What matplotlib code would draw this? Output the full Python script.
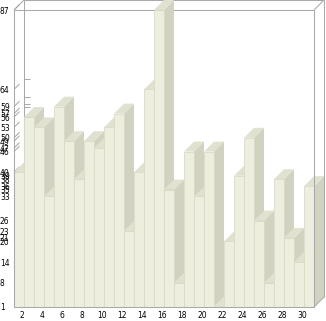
import matplotlib
matplotlib.use('Agg')
import matplotlib.pyplot as plt
from matplotlib.patches import Polygon
import numpy as np

# ---- data ----
categories = list(range(1, 31))
values = [40, 56, 53, 33, 59, 49, 38, 49, 47, 53, 57, 23, 40, 64, 87,
          35, 8, 46, 33, 46, 1, 20, 39, 50, 26, 8, 38, 21, 14, 36]
x_tick_cats = [c for c in categories if c % 2 == 0]
x_tick_labels = [str(c) for c in x_tick_cats]
y_tick_values = sorted(set(values))
y_min, y_max = 1, 87

# ---- style ----
FRONT = '#EEEEDF'
TOP = '#E1E1D0'
SIDE = '#D2D2C1'
EDGE = '#DADAC8'
FRAME = '#A9A9A9'

W, H, DPI = 326, 321, 100
fig = plt.figure(figsize=(W / DPI, H / DPI), dpi=DPI)
L, R, T, B = 14, 314, 10, 307
ax = fig.add_axes([L / W, 1 - B / H, (R - L) / W, (B - T) / H])
ax.set_xlim(0.5, len(categories) + 0.5)
ax.set_ylim(y_min, y_max)
for s in ax.spines.values():
    s.set_visible(False)
ax.set_facecolor('none')

# depth offset (10 px right, 10 px up) converted to data units
p0 = ax.transData.transform((0.5, y_min))
q0 = ax.transData.inverted().transform(p0 + np.array([10.0, 10.0]))
dx, dy = q0[0] - 0.5, q0[1] - y_min

x0, x1 = 0.5, len(categories) + 0.5
lw = 0.75

def line(xs, ys, z=1, color=FRAME):
    ax.plot(xs, ys, color=color, lw=lw, clip_on=False, zorder=z,
            solid_capstyle='butt')

# back wall + left wall frame (behind bars)
line([x0 + dx, x1 + dx], [y_max + dy, y_max + dy])
line([x0 + dx, x0 + dx], [y_min + dy, y_max + dy])
line([x1 + dx, x1 + dx], [y_min + dy, y_max + dy])
line([x0, x0 + dx], [y_max, y_max + dy])
line([x0, x1], [y_max, y_max])
line([x1, x1 + dx], [y_max, y_max + dy])

# tick marks on left wall and back wall
for v in y_tick_values:
    line([x0, x0 + 0.55 * dx], [v, v + 0.55 * dy])
    line([x0 + dx, x0 + dx + 0.6], [v + dy, v + dy])

# bars drawn left to right: side, top, front
for i, (c, v) in enumerate(zip(categories, values)):
    z = 3 + i * 3
    xl, xr = c - 0.5, c + 0.5
    side = Polygon([(xr, y_min), (xr, v), (xr + dx, v + dy), (xr + dx, y_min + dy)],
                   closed=True, facecolor=SIDE, edgecolor='none', clip_on=False, zorder=z)
    top = Polygon([(xl, v), (xr, v), (xr + dx, v + dy), (xl + dx, v + dy)],
                  closed=True, facecolor=TOP, edgecolor='none', clip_on=False, zorder=z + 1)
    ax.add_patch(side)
    ax.add_patch(top)
    ax.bar(c, v - y_min, bottom=y_min, width=1.0, color=FRONT, edgecolor=EDGE,
           linewidth=0.6, zorder=z + 2, clip_on=False)

# front frame lines on top
ztop = 200
line([x0, x0], [y_min, y_max], z=ztop)
line([x1, x1], [y_min, y_max], z=ztop)
line([x0, x1], [y_min, y_min], z=ztop)
line([x1, x1 + dx], [y_min, y_min + dy], z=ztop)

# ticks and labels
ax.set_yticks(y_tick_values)
ax.set_yticklabels([str(v) for v in y_tick_values])
ax.set_xticks([c - 0.7 for c in x_tick_cats])
ax.set_xticklabels(x_tick_labels)
ax.tick_params(axis='y', length=0, pad=L * 72 / DPI, labelsize=5.5, labelcolor='black')
ax.tick_params(axis='x', length=0, pad=3.2, labelsize=5.5, labelcolor='black')
for lab in ax.get_yticklabels():
    lab.set_horizontalalignment('left')

fig.savefig('out.png', dpi=DPI, facecolor='white')
